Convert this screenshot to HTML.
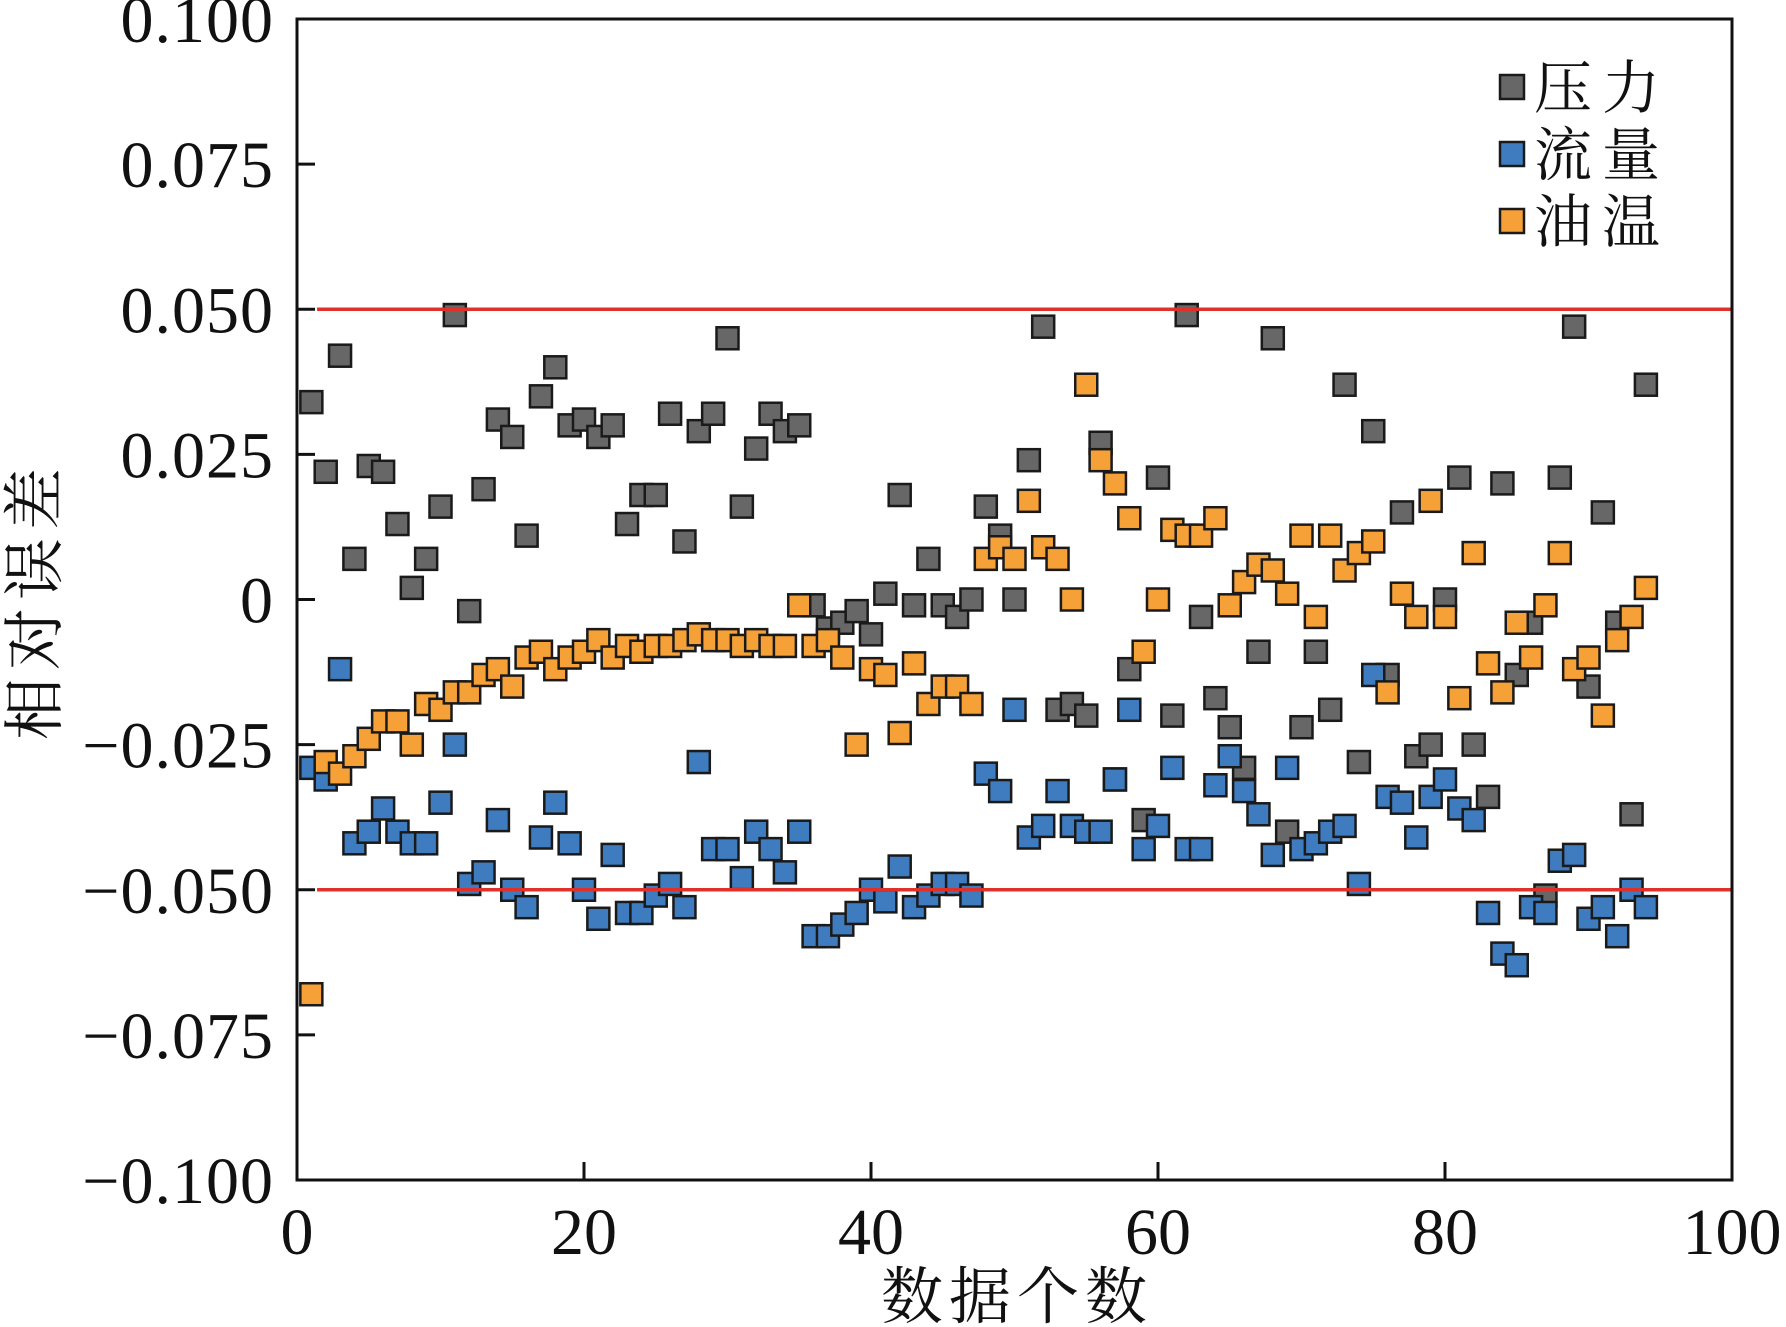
<!DOCTYPE html>
<html><head><meta charset="utf-8"><style>
html,body{margin:0;padding:0;background:#fff}
svg{display:block}
</style></head><body>
<svg id="chart" width="1786" height="1327" viewBox="0 0 1786 1327" xmlns="http://www.w3.org/2000/svg">
<g id="marks"></g>
<g id="axes"></g>
<g id="legend"></g>
</svg>
<script>
const pressure=[0.034,0.022,0.042,0.007,0.023,0.022,0.013,0.002,0.007,0.016,0.049,-0.002,0.019,0.031,0.028,0.011,0.035,0.040,0.030,0.031,0.028,0.030,0.013,0.018,0.018,0.032,0.010,0.029,0.032,0.045,0.016,0.026,0.032,0.029,0.030,-0.001,-0.005,-0.004,-0.002,-0.006,0.001,0.018,-0.001,0.007,-0.001,-0.003,0.000,0.016,0.011,0.000,0.024,0.047,-0.019,-0.018,-0.020,0.027,-0.031,-0.012,-0.038,0.021,-0.020,0.049,-0.003,-0.017,-0.022,-0.029,-0.009,0.045,-0.040,-0.022,-0.009,-0.019,0.037,-0.028,0.029,-0.013,0.015,-0.027,-0.025,0.000,0.021,-0.025,-0.034,0.020,-0.013,-0.004,-0.051,0.021,0.047,-0.015,0.015,-0.004,-0.037,0.037];
const flow=[-0.029,-0.031,-0.012,-0.042,-0.040,-0.036,-0.040,-0.042,-0.042,-0.035,-0.025,-0.049,-0.047,-0.038,-0.050,-0.053,-0.041,-0.035,-0.042,-0.050,-0.055,-0.044,-0.054,-0.054,-0.051,-0.049,-0.053,-0.028,-0.043,-0.043,-0.048,-0.040,-0.043,-0.047,-0.040,-0.058,-0.058,-0.056,-0.054,-0.050,-0.052,-0.046,-0.053,-0.051,-0.049,-0.049,-0.051,-0.030,-0.033,-0.019,-0.041,-0.039,-0.033,-0.039,-0.040,-0.040,-0.031,-0.019,-0.043,-0.039,-0.029,-0.043,-0.043,-0.032,-0.027,-0.033,-0.037,-0.044,-0.029,-0.043,-0.042,-0.040,-0.039,-0.049,-0.013,-0.034,-0.035,-0.041,-0.034,-0.031,-0.036,-0.038,-0.054,-0.061,-0.063,-0.053,-0.054,-0.045,-0.044,-0.055,-0.053,-0.058,-0.050,-0.053];
const oilTemp=[-0.068,-0.028,-0.030,-0.027,-0.024,-0.021,-0.021,-0.025,-0.018,-0.019,-0.016,-0.016,-0.013,-0.012,-0.015,-0.010,-0.009,-0.012,-0.010,-0.009,-0.007,-0.010,-0.008,-0.009,-0.008,-0.008,-0.007,-0.006,-0.007,-0.007,-0.008,-0.007,-0.008,-0.008,-0.001,-0.008,-0.007,-0.010,-0.025,-0.012,-0.013,-0.023,-0.011,-0.018,-0.015,-0.015,-0.018,0.007,0.009,0.007,0.017,0.009,0.007,0.000,0.037,0.024,0.020,0.014,-0.009,0.000,0.012,0.011,0.011,0.014,-0.001,0.003,0.006,0.005,0.001,0.011,-0.003,0.011,0.005,0.008,0.010,-0.016,0.001,-0.003,0.017,-0.003,-0.017,0.008,-0.011,-0.016,-0.004,-0.010,-0.001,0.008,-0.012,-0.010,-0.020,-0.007,-0.003,0.002];
const yTicks=[0.1,0.075,0.05,0.025,0,-0.025,-0.05,-0.075,-0.1];
const yTickLabels=["0.100","0.075","0.050","0.025","0","\u22120.025","\u22120.050","\u22120.075","\u22120.100"];
const xTicks=[0,20,40,60,80,100];
const limits=[0.05,-0.05];
const seriesNames=["压力","流量","油温"];

const L=297,R=1732,T=19,B=1180;
const NS="http://www.w3.org/2000/svg";
function xs(v){return L+(v/100)*(R-L);}
function ys(v){return T+(0.1-v)/0.2*(B-T);}
function mk(tag,attrs,parent){const e=document.createElementNS(NS,tag);for(const k in attrs)e.setAttribute(k,attrs[k]);parent.appendChild(e);return e;}
const marks=document.getElementById('marks'),axes=document.getElementById('axes'),legend=document.getElementById('legend');
const S=22;
const colors=["#676767","#3f7cbf","#f6a038"];
const names=["pressure","flow","oil-temp"];
[pressure,flow,oilTemp].forEach((arr,si)=>{
  const g=mk('g',{},marks);
  
  
  arr.forEach((v,i)=>{
    const r=mk('rect',{x:xs(i+1)-S/2,y:ys(v)-S/2,width:S,height:S,fill:colors[si],stroke:"#1a1a1a","stroke-width":2.5},g);
    
    
  });
});
limits.forEach(v=>{
  const l=mk('line',{x1:xs(1.4),x2:R,y1:ys(v),y2:ys(v),stroke:"#e0302a","stroke-width":3.5},marks);
  
  
});
const frame=mk('rect',{x:L,y:T,width:R-L,height:B-T,fill:"none",stroke:"#111","stroke-width":3},axes);


yTicks.forEach((v,i)=>{
  mk('line',{x1:L,x2:L+18,y1:ys(v),y2:ys(v),stroke:"#111","stroke-width":3},axes);
  const t=mk('text',{x:274,y:ys(v)+23,"text-anchor":"end","font-family":"Liberation Serif, serif","font-size":66,fill:"#111","letter-spacing":1},axes);
  t.textContent=yTickLabels[i];
  
  
});
xTicks.forEach(v=>{
  mk('line',{x1:xs(v),x2:xs(v),y1:B,y2:B-18,stroke:"#111","stroke-width":3},axes);
  const t=mk('text',{x:xs(v),y:1254,"text-anchor":"middle","font-family":"Liberation Serif, serif","font-size":66,fill:"#111"},axes);
  t.textContent=String(v);
  
  
});
const xt=mk('text',{x:1017,y:1318,"text-anchor":"middle","font-family":"Liberation Serif, Noto Serif CJK SC, serif","font-size":62,fill:"#111","letter-spacing":6},axes);
xt.textContent="数据个数";


const yt=mk('text',{x:0,y:0,"text-anchor":"middle","font-family":"Liberation Serif, Noto Serif CJK SC, serif","font-size":62,fill:"#111","letter-spacing":8,transform:"translate(56,600) rotate(-90)"},axes);
yt.textContent="相对误差";


seriesNames.forEach((n,i)=>{
  const cy=87+i*67;
  const r=mk('rect',{x:1500,y:cy-12,width:24,height:24,fill:colors[i],stroke:"#1a1a1a","stroke-width":2.5},legend);
  
  
  const t=mk('text',{x:1534,y:cy+21,"font-family":"Liberation Serif, Noto Serif CJK SC, serif","font-size":58,fill:"#111","letter-spacing":10},legend);
  t.textContent=n;
  
  
});
</script>
</body></html>
